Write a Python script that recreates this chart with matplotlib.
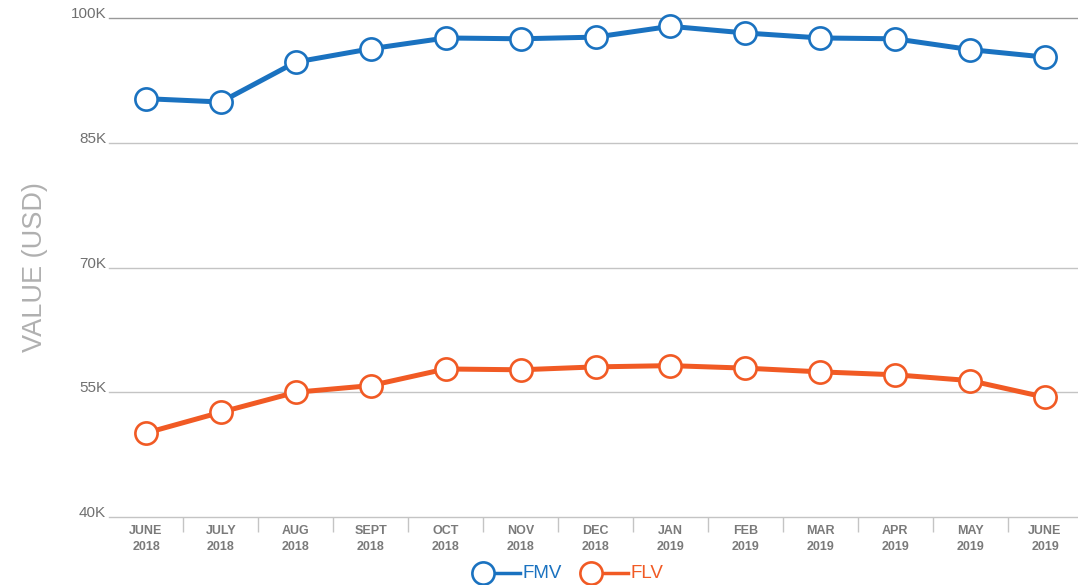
import numpy as np
import matplotlib
matplotlib.use("Agg")
import matplotlib.pyplot as plt

months = ["JUNE\n2018", "JULY\n2018", "AUG\n2018", "SEPT\n2018", "OCT\n2018", "NOV\n2018",
          "DEC\n2018", "JAN\n2019", "FEB\n2019", "MAR\n2019", "APR\n2019", "MAY\n2019", "JUNE\n2019"]
fmv = [90.3, 89.9, 94.7, 96.3, 97.6, 97.5, 97.7, 99.0, 98.2, 97.6, 97.5, 96.2, 95.3]
flv = [50.1, 52.6, 55.0, 55.8, 57.8, 57.7, 58.05, 58.2, 57.9, 57.45, 57.1, 56.4, 54.4]
y_ticks = [40, 55, 70, 85, 100]
y_labels = ["40K", "55K", "70K", "85K", "100K"]

blue = "#1a72c0"
orange = "#f15a24"

plt.rcParams['font.family'] = ['Liberation Sans', 'DejaVu Sans']

fig = plt.figure(figsize=(10.78, 5.85), dpi=100)
ax = fig.add_axes([109/1078, 68/585, 969/1078, 499/585])

x = np.arange(len(months))
for vals, c in [(fmv, blue), (flv, orange)]:
    ax.plot(x, vals, color=c, linewidth=3.6, marker='o', markersize=16,
            markerfacecolor='white', markeredgecolor=c, markeredgewidth=1.9,
            clip_on=False, zorder=3)

ax.set_xlim(-0.494, 12.44)
ax.set_ylim(40, 100)

for s in ax.spines.values():
    s.set_visible(False)

for v in y_ticks:
    ax.axhline(v, color='#999999' if v == 100 else '#c4c4c4', linewidth=1,
               zorder=1, clip_on=False)

ax.set_yticks(y_ticks)
ax.set_yticklabels(y_labels, color='#707070', fontsize=11)
for lab in ax.get_yticklabels():
    lab.set_verticalalignment('baseline')
ax.tick_params(axis='y', length=0, pad=2)

ax.set_xticks(x)
ax.set_xticklabels(months, color='#7a7a7a', fontsize=9, fontweight='bold', linespacing=1.4)
ax.set_xticks(np.arange(0.5, 12, 1), minor=True)
ax.tick_params(axis='x', which='major', length=0, pad=6)
ax.tick_params(axis='x', which='minor', length=11, color='#c4c4c4', width=1)

ax.set_ylabel("VALUE (USD)", color='#b0b0b0', fontsize=19.5, labelpad=16)

# legend drawn by hand: circle at the left end of a short line
leg = fig.add_axes([0, 0, 1, 1], facecolor='none')
leg.set_xlim(0, 1078)
leg.set_ylim(585, 0)
leg.axis('off')
for x0, c, name in [(483, blue, "FMV"), (591, orange, "FLV")]:
    leg.plot([x0, x0 + 37], [573, 573], color=c, linewidth=2.5, zorder=1)
    leg.plot([x0], [573], marker='o', markersize=16, markerfacecolor='white',
             markeredgecolor=c, markeredgewidth=1.9, zorder=2)
    leg.text(x0 + 39, 573, name, color=c, fontsize=13.5, va='center', ha='left')

fig.savefig("out.png", dpi=100)
